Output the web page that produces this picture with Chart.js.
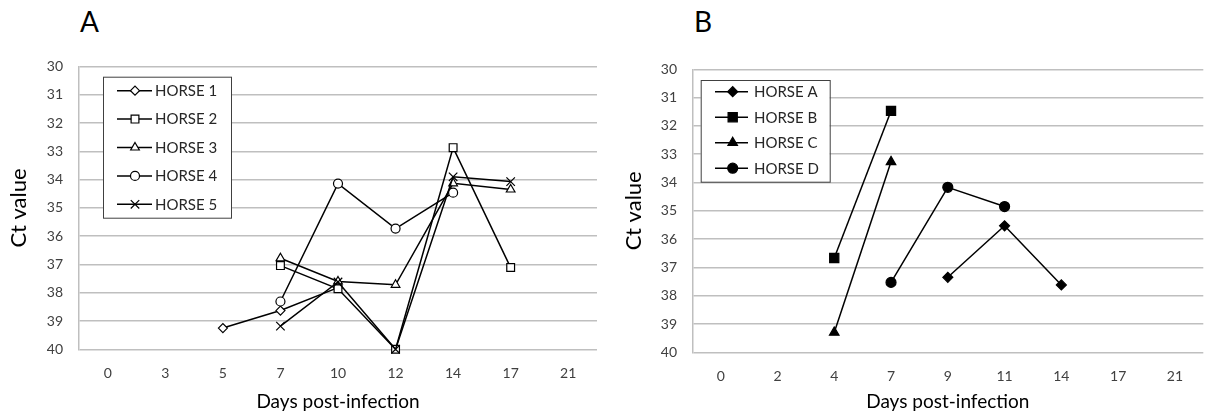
<!DOCTYPE html>
<html lang="en">
<head>
<meta charset="UTF-8" />
<title>Ct values post-infection</title>
<script src="https://cdn.jsdelivr.net/npm/chart.js"></script>
<style>
  body { margin: 0; background: #fff; font-family: Lato, sans-serif; }
  .panel { position: absolute; top: 0; height: 414px; }
  #panelA { left: 0; width: 605px; }
  #panelB { left: 605px; width: 606px; }
  .letter { position: absolute; top: 7px; font-size: 28px; line-height: 28px; color: #000; }
  canvas { position: absolute; left: 0; top: 0; }
</style>
</head>
<body>
<div class="panel" id="panelA">
  <div class="letter" style="left: 80px;">A</div>
  <canvas id="chartA" width="605" height="414"></canvas>
</div>
<div class="panel" id="panelB">
  <div class="letter" style="left: 89px;">B</div>
  <canvas id="chartB" width="606" height="414"></canvas>
</div>

<script>
  // Panel A - days and Ct values
  const daysA = ['0', '3', '5', '7', '10', '12', '14', '17', '21'];
  const horse1 = [null, null, 39.25, 38.63, 37.82, null, null, null, null];
  const horse2 = [null, null, null, 37.04, 37.86, 40, 32.87, 37.11, null];
  const horse3 = [null, null, null, 36.78, 37.6, 37.72, 34.13, 34.35, null];
  const horse4 = [null, null, null, 38.31, 34.14, 35.73, 34.46, null, null];
  const horse5 = [null, null, null, 39.18, 37.62, 40, 33.9, 34.07, null];

  // Panel B
  const daysB = ['0', '2', '4', '7', '9', '11', '14', '17', '21'];
  const horseA = [null, null, null, null, 37.35, 35.53, 37.62, null, null];
  const horseB = [null, null, 36.67, 31.47, null, null, null, null, null];
  const horseC = [null, null, 39.3, 33.27, null, null, null, null, null];
  const horseD = [null, null, null, 37.53, 34.17, 34.85, null, null, null];

  const ctRange = [30, 40];

  const GRID = '#bfbfbf';
  const TICK = '#404040';
  const FONT = 'Lato, sans-serif';

  // legend drawn as a framed box inside the plot area
  const boxLegend = {
    id: 'boxLegend',
    afterDatasetsDraw(chart, args, o) {
      const { ctx, chartArea } = chart;
      const x0 = chartArea.left + o.left;
      const y0 = chartArea.top + o.top;
      ctx.save();
      ctx.fillStyle = '#fff';
      ctx.fillRect(x0, y0, o.width, o.height);
      ctx.strokeStyle = '#404040';
      ctx.lineWidth = 1;
      ctx.strokeRect(x0 + 0.5, y0 + 0.5, o.width, o.height);
      chart.data.datasets.forEach((ds, i) => {
        const y = y0 + o.first + i * o.step;
        ctx.strokeStyle = '#000';
        ctx.lineWidth = 1.5;
        ctx.beginPath();
        ctx.moveTo(x0 + o.lineFrom, y);
        ctx.lineTo(x0 + o.lineTo, y);
        ctx.stroke();
        ctx.fillStyle = ds.pointBackgroundColor;
        ctx.strokeStyle = '#000';
        ctx.lineWidth = ds.pointBorderWidth;
        Chart.helpers.drawPoint(ctx, {
          pointStyle: ds.pointStyle, radius: ds.pointRadius,
          rotation: 0, borderWidth: ds.pointBorderWidth
        }, x0 + o.marker, y);
        ctx.fillStyle = '#262626';
        ctx.font = '15px ' + FONT;
        ctx.textBaseline = 'middle';
        ctx.textAlign = 'left';
        ctx.fillText(ds.label, x0 + o.text, y + 0.5);
      });
      ctx.restore();
    }
  };

  // later series are drawn on top, as in the original
  function series(label, data, style, radius, fill, idx) {
    return {
      label, data, order: -idx,
      borderColor: '#000', borderWidth: 1.5, tension: 0,
      pointStyle: style, pointRadius: radius, pointHoverRadius: radius,
      pointBackgroundColor: fill, pointBorderColor: '#000', pointBorderWidth: 1.2,
      clip: false
    };
  }

  function makeChart(id, labels, datasets, geo) {
    return new Chart(document.getElementById(id), {
      type: 'line',
      data: { labels, datasets },
      plugins: [boxLegend],
      options: {
        responsive: false,
        animation: false,
        devicePixelRatio: 1,
        layout: { padding: { top: geo.top, right: geo.right, left: 0, bottom: 0 } },
        plugins: {
          legend: { display: false },
          tooltip: { enabled: false },
          boxLegend: geo.legend
        },
        scales: {
          x: {
            offset: true,
            grid: { display: false, drawTicks: false },
            border: { display: false },
            ticks: { padding: 16, color: TICK, font: { family: FONT, size: 14 }, maxRotation: 0, autoSkip: false },
            title: { display: true, text: 'Days post-infection', color: '#000',
                     font: { family: FONT, size: 19 }, padding: { top: 0, bottom: 1 } },
            afterFit(s) { s.height = geo.xHeight; }
          },
          y: {
            reverse: true,
            min: ctRange[0], max: ctRange[1],
            grid: { color: GRID, lineWidth: 1.5, drawTicks: false },
            border: { display: true, color: GRID, width: 1.5 },
            ticks: { stepSize: 1, padding: geo.yPad, color: TICK, font: { family: FONT, size: 14 } },
            title: { display: true, text: 'Ct value', color: '#000',
                     font: { family: FONT, size: 22 }, padding: { top: geo.titlePad, bottom: 0 } },
            afterFit(s) { s.width = geo.yWidth; }
          }
        }
      }
    });
  }

  makeChart('chartA', daysA, [
    series('HORSE 1', horse1, 'rectRot', 4.5, '#fff', 0),
    series('HORSE 2', horse2, 'rect', 5.5, '#fff', 1),
    series('HORSE 3', horse3, 'triangle', 5, '#fff', 2),
    series('HORSE 4', horse4, 'circle', 4.5, '#fff', 3),
    series('HORSE 5', horse5, 'crossRot', 6, '#fff', 4)
  ], {
    top: 66.5, right: 8, yWidth: 79, yPad: 16, titlePad: 5.8, xHeight: 64.7,
    legend: { left: 24, top: 10.2, width: 128, height: 141, first: 14, step: 28.4,
              lineFrom: 14, lineTo: 49, marker: 32, text: 52 }
  });

  makeChart('chartB', daysB, [
    series('HORSE A', horseA, 'rectRot', 5, '#000', 0),
    series('HORSE B', horseB, 'rect', 6.5, '#000', 1),
    series('HORSE C', horseC, 'triangle', 5.5, '#000', 2),
    series('HORSE D', horseD, 'circle', 5, '#000', 3)
  ], {
    top: 69.3, right: 0.6, yWidth: 87.3, yPad: 15.3, titlePad: 15.8, xHeight: 61.7,
    legend: { left: 8.4, top: 10.7, width: 129, height: 101.7, first: 11.7, step: 25.5,
              lineFrom: 14.3, lineTo: 47.3, marker: 32, text: 53.3 }
  });
</script>
</body>
</html>
